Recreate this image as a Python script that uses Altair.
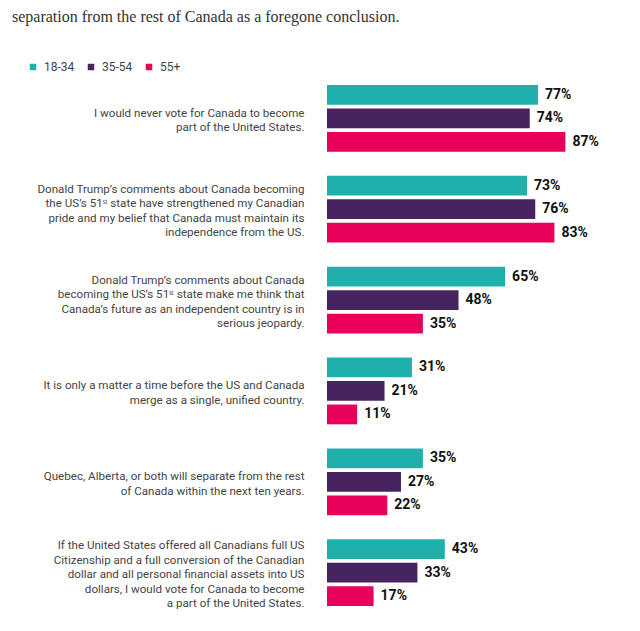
import altair as alt
import pandas as pd

statements = [
    "I would never vote for Canada to become|part of the United States.",
    "Donald Trump’s comments about Canada becoming|the US’s 51ˢᵗ state have strengthened my Canadian|pride and my belief that Canada must maintain its|independence from the US.",
    "Donald Trump’s comments about Canada|becoming the US’s 51ˢᵗ state make me think that|Canada’s future as an independent country is in|serious jeopardy.",
    "It is only a matter a time before the US and Canada|merge as a single, unified country.",
    "Quebec, Alberta, or both will separate from the rest|of Canada within the next ten years.",
    "If the United States offered all Canadians full US|Citizenship and a full conversion of the Canadian|dollar and all personal financial assets into US|dollars, I would vote for Canada to become|a part of the United States.",
]
ages = ["18-34", "35-54", "55+"]
colors = ["#20b0ab", "#46245f", "#e8005a"]
v_18_34 = [77, 73, 65, 31, 35, 43]
v_35_54 = [74, 76, 48, 21, 27, 33]
v_55 = [87, 83, 35, 11, 22, 17]

rows = []
for age, vals in zip(ages, [v_18_34, v_35_54, v_55]):
    for s, v in zip(statements, vals):
        rows.append({"statement": s, "age": age, "value": v})
df = pd.DataFrame(rows)

LH = 14.5
SHIFT = 2.5
nlines = "length(split(datum.label, '|'))"
label_offset = {
    "condition": [
        {"test": f"{nlines} == 5", "value": -2 * LH + SHIFT},
        {"test": f"{nlines} == 4", "value": -1.5 * LH + SHIFT},
        {"test": f"{nlines} == 3", "value": -1 * LH + SHIFT},
    ],
    "value": -0.5 * LH + SHIFT,
}

y_enc = alt.Y(
    "statement:N",
    sort=statements,
    scale=alt.Scale(paddingInner=0.265, paddingOuter=0),
    axis=alt.Axis(
        title=None,
        domain=False,
        ticks=False,
        labelPadding=23,
        labelAlign="right",
        labelBaseline="middle",
        labelFontSize=11.6,
        labelColor="#444444",
        labelFont="Roboto",
        labelLimit=400,
        labelLineHeight=LH,
        labelOffset=label_offset,
        labelExpr="split(datum.label, '|')",
    ),
)
yoff_enc = alt.YOffset("age:N", sort=ages, scale=alt.Scale(paddingInner=0.16, paddingOuter=0))

base = alt.Chart(df).encode(y=y_enc, yOffset=yoff_enc)

bars = base.mark_bar().encode(
    x=alt.X("value:Q", scale=alt.Scale(domain=[0, 100]), axis=None),
    color=alt.Color(
        "age:N",
        sort=ages,
        scale=alt.Scale(domain=ages, range=colors),
        legend=alt.Legend(
            orient="none",
            legendX=-300,
            legendY=-24,
            direction="horizontal",
            title=None,
            symbolType="square",
            symbolSize=42,
            symbolStrokeWidth=0,
            labelFontSize=12,
            labelFont="Roboto",
            labelColor="#444444",
            labelOffset=5,
            columnPadding=10,
        ),
    ),
)

labels = base.mark_text(
    align="left", baseline="middle", dx=7, fontSize=14, fontWeight="bold",
    font="Roboto", color="#111111"
).transform_calculate(label="datum.value + '%'").encode(
    x=alt.X("value:Q"),
    text="label:N",
)

chart = alt.layer(bars, labels).properties(
    width=274,
    height=521,
    autosize=alt.AutoSizeParams(type="none"),
    padding={"left": 319, "top": 77, "right": 30, "bottom": 10},
    title=alt.TitleParams(
        "separation from the rest of Canada as a foregone conclusion.",
        anchor="start",
        frame="group",
        dx=-315,
        offset=36,
        fontSize=16,
        font="Liberation Serif",
        fontWeight="normal",
        color="#333333",
    ),
).configure_view(stroke=None)

chart.save("out.html", embed_options={"renderer": "svg", "actions": False})
